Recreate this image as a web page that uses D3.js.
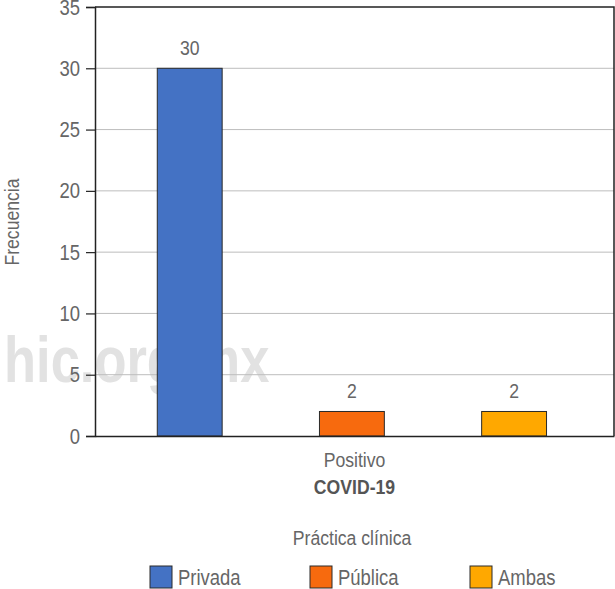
<!DOCTYPE html>
<html>
<head>
<meta charset="utf-8">
<script src="https://cdn.jsdelivr.net/npm/d3@7"></script>
<style>
  body { margin: 0; background: #fff; }
  svg text { font-family: 'Liberation Sans', Arial, sans-serif; fill: #666; }
  /* narrow look of the original condensed face */
  .cond { transform-box: fill-box; transform: scaleX(0.84); }
  .cond-l { transform-origin: left center; }
  .cond-r { transform-origin: right center; }
  .cond-c { transform-origin: center center; }
</style>
</head>
<body>
<svg width="615" height="589"></svg>
<script>
// Data
const categories = ['Positivo'];
const series = ['Privada', 'Pública', 'Ambas'];
const values = [30, 2, 2];
const colors = ['#4472C4', '#F76A0E', '#FFA800'];
const yTicks = [0, 5, 10, 15, 20, 25, 30, 35];

const svg = d3.select('svg');
const margin = { top: 7, right: 1, bottom: 153, left: 95 };
const width = 615;
const height = 589;
const innerWidth = width - margin.left - margin.right;
const innerHeight = height - margin.top - margin.bottom;

// Scales
const x0 = d3.scaleBand().domain(categories).range([0, innerWidth]);
const x1 = d3.scaleBand().domain(series).range([0, x0.bandwidth()])
  .paddingInner(0.6).paddingOuter(0.4).align(0.48);
const y = d3.scaleLinear().domain([0, 35]).range([innerHeight, 0]);
const color = d3.scaleOrdinal().domain(series).range(colors);

// Watermark (behind everything)
svg.append('text')
  .attr('transform', 'translate(4,382) scale(0.82,1)')
  .attr('font-size', '64px')
  .attr('font-weight', 'bold')
  .style('fill', '#e2e2e2')
  .text('hic.org.mx');

const g = svg.append('g')
  .attr('transform', `translate(${margin.left},${margin.top})`);

// Gridlines
g.append('g')
  .selectAll('line')
  .data(yTicks.slice(1, -1))
  .join('line')
  .attr('x1', 0)
  .attr('x2', innerWidth)
  .attr('y1', (d) => y(d))
  .attr('y2', (d) => y(d))
  .attr('stroke', '#bdbdbd')
  .attr('stroke-width', 1);

// Frame (top and right)
g.append('path')
  .attr('d', `M0,${y(35)}H${innerWidth}V${innerHeight}`)
  .attr('fill', 'none')
  .attr('stroke', '#222')
  .attr('stroke-width', 1.5);

// Bars
const groups = g.selectAll('.group')
  .data(categories)
  .join('g')
  .attr('transform', (d) => `translate(${x0(d)},0)`);

const barData = series.map((s, i) => ({ key: s, value: values[i] }));

groups.selectAll('rect')
  .data(barData)
  .join('rect')
  .attr('x', (d) => x1(d.key))
  .attr('y', (d) => y(d.value))
  .attr('width', x1.bandwidth())
  .attr('height', (d) => innerHeight - y(d.value))
  .attr('fill', (d) => color(d.key))
  .attr('stroke', '#2a2a2a')
  .attr('stroke-width', 1);

groups.selectAll('.value')
  .data(barData)
  .join('text')
  .attr('class', 'value cond cond-c')
  .attr('x', (d) => x1(d.key) + x1.bandwidth() / 2)
  .attr('y', (d) => y(d.value) - 13)
  .attr('text-anchor', 'middle')
  .attr('font-size', '21px')
  .text((d) => d.value);

// Y axis
const yAxis = d3.axisLeft(y).tickValues(yTicks).tickSize(9).tickPadding(6);
const yG = g.append('g').call(yAxis);
yG.select('.domain').attr('stroke', '#222').attr('stroke-width', 1.5);
yG.selectAll('.tick line').attr('stroke', '#222').attr('stroke-width', 1.2);
yG.selectAll('.tick text')
  .attr('class', 'cond cond-r')
  .attr('font-size', '22px')
  .style('fill', '#666');

// X axis
const xAxis = d3.axisBottom(x0).tickSize(0).tickPadding(16);
const xG = g.append('g').attr('transform', `translate(0,${innerHeight})`).call(xAxis);
xG.select('.domain').attr('stroke', '#222').attr('stroke-width', 1.5);
xG.selectAll('.tick text')
  .attr('class', 'cond cond-c')
  .attr('font-size', '21px')
  .style('fill', '#666');

// Axis titles
g.append('text')
  .attr('class', 'cond cond-c')
  .attr('x', innerWidth / 2)
  .attr('y', innerHeight + 58)
  .attr('text-anchor', 'middle')
  .attr('font-size', '21px')
  .attr('font-weight', 'bold')
  .style('fill', '#555')
  .text('COVID-19');

svg.append('text')
  .attr('transform', 'translate(19,222) rotate(-90) scale(0.84,1)')
  .attr('text-anchor', 'middle')
  .attr('font-size', '21px')
  .text('Frecuencia');

// Legend
svg.append('text')
  .attr('class', 'cond cond-c')
  .attr('x', 352)
  .attr('y', 545)
  .attr('text-anchor', 'middle')
  .attr('font-size', '21px')
  .text('Práctica clínica');

const legend = svg.append('g')
  .selectAll('g')
  .data(series)
  .join('g')
  .attr('transform', (d, i) => `translate(${150 + i * 160},566)`);

legend.append('rect')
  .attr('width', 22)
  .attr('height', 22)
  .attr('fill', (d) => color(d))
  .attr('stroke', '#2a2a2a')
  .attr('stroke-width', 1);

legend.append('text')
  .attr('class', 'cond cond-l')
  .attr('x', 28)
  .attr('y', 19)
  .attr('font-size', '22px')
  .text((d) => d);
</script>
</body>
</html>
